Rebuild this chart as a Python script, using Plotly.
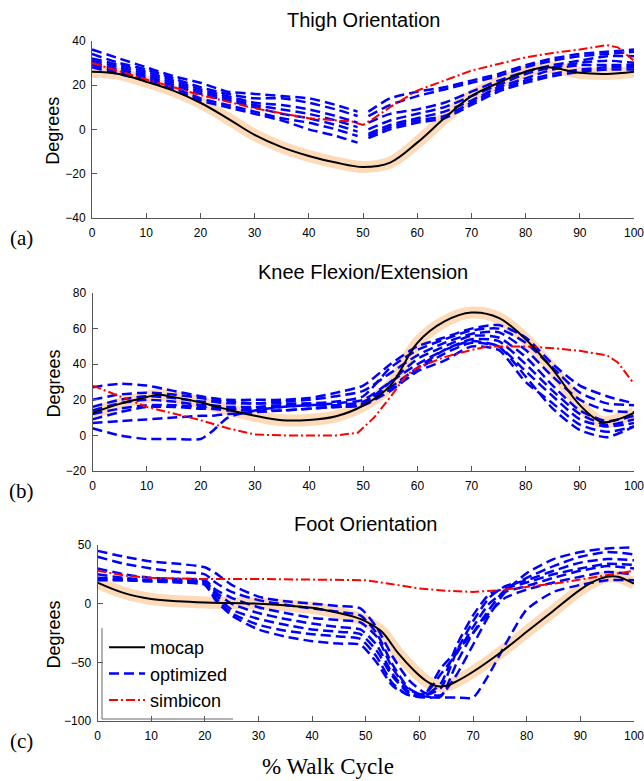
import plotly.graph_objects as go

W, H = 644, 781

# ---------------- data ----------------
thigh_mocap_x = [0, 5, 10, 15, 20, 25, 30, 35, 40, 45, 50, 55, 60, 65, 70, 75, 80, 84, 90, 95, 100]
thigh_mocap_y = [26, 25, 21.5, 17.5, 12, 5, -2.5, -8, -12, -15, -17, -15, -6, 5, 15, 21, 26, 28, 25.5, 25, 26]
thigh_simb_x = [0, 10, 20, 30, 40, 45, 48, 50, 52, 55, 60, 65, 70, 75, 80, 85, 90, 95, 97, 100]
thigh_simb_y = [30, 22.5, 15.5, 9.5, 5, 4, 3.5, 2, 5, 10, 17.5, 22, 26.5, 29.5, 32.5, 34.5, 36, 38, 37, 31]
thigh_opt_x = [0, 5, 10, 15, 20, 25, 30, 35, 40, 45, 49, 50, 51, 55, 60, 65, 70, 75, 80, 85, 90, 95, 100]
thigh_opt = [
    [36, 32, 28, 24, 21, 17, 16, 15, 14, 11, 8, None, 8, 14, 17, 19, 22, 25, 29, 32, 34, 35, 36],
    [34, 30, 27, 23, 19, 16, 14, 14, 12, 9, 6, None, 6, 11, 15, 18, 21, 24, 28, 31, 33, 34, 35],
    [32, 29, 26, 22, 18, 15, 12, 11, 9, 6, 3, None, 3, 7, 9, 12, 17, 22, 26, 29, 31, 33, 33],
    [31, 28, 25, 21, 17, 14, 11, 9, 7, 4, 1, None, 0, 4, 7, 10, 15, 20, 25, 28, 30, 31, 30],
    [30, 27, 24, 20, 16, 13, 10, 7, 5, 2, -1, None, -2, 2, 5, 8, 13, 19, 23, 27, 29, 29, 29],
    [29, 26, 23, 19, 14, 11, 8, 5, 3, 0, -3, None, -3, 1, 4, 6, 12, 18, 22, 25, 27, 28, 28],
    [28, 25, 22, 18, 13, 10, 7, 4, 0, -3, -6, None, -4, 0, 3, 5, 11, 17, 21, 24, 26, 27, 27],
]

knee_mocap_x = [0, 5, 10, 12, 15, 20, 25, 30, 35, 40, 45, 50, 55, 60, 65, 70, 75, 80, 85, 90, 94, 97, 100]
knee_mocap_y = [12.6, 17.7, 21.5, 22.8, 21.5, 18.5, 14.5, 11, 8.5, 8.7, 10.8, 16.8, 28, 52, 64, 69, 66, 54, 37, 17, 7.5, 9, 12.6]
knee_simb_x = [0, 10, 20, 25, 30, 35, 40, 45, 49, 52, 55, 58, 60, 65, 70, 73, 80, 85, 90, 95, 97, 100]
knee_simb_y = [28, 16, 8.5, 4, 0.5, 0, 0, 0, 1.5, 10, 21.5, 34, 38, 44, 48, 50, 50, 49, 47.5, 45, 41, 29]
knee_opt_x = [0, 5, 10, 15, 20, 22, 25, 30, 35, 40, 45, 50, 55, 60, 65, 70, 75, 80, 85, 90, 95, 100]
knee_opt = [
    [27, 29, 28, 25, 22, 21, 20, 20, 20, 21, 24, 28, 40, 50, 55, 60, 62, 55, 40, 28, 22, 18],
    [20, 23, 24, 23, 21, 20, 19, 18, 18, 18, 19, 22, 38, 48, 54, 59, 60, 52, 38, 24, 18, 17],
    [16, 20, 22, 21, 19, 19, 18, 18, 19, 20, 22, 25, 35, 45, 52, 57, 58, 48, 33, 20, 14, 13],
    [14, 18, 20, 19, 17, 17, 16, 16, 17, 17, 17, 18, 30, 43, 50, 56, 55, 44, 28, 14, 8, 11],
    [12, 15, 17, 17, 16, 16, 15, 15, 16, 17, 17, 19, 27, 38, 48, 54, 53, 40, 25, 12, 6, 9],
    [9, 13, 16, 16, 15, 15, 14, 14, 14, 15, 16, 17, 26, 37, 46, 52, 50, 36, 22, 9, 5, 7],
    [7, 8, 9, 10, 11, 11, 12, 13, 14, 15, 16, 17, 25, 36, 42, 50, 48, 30, 18, 6, 2, 5],
    [4, 0, -2, -2, -2, 2, 10, 14, 16, 17, 18, 20, 30, 40, 48, 53, 50, 33, 15, 3, -1, 5],
]

foot_mocap_x = [0, 5, 10, 15, 20, 25, 30, 35, 40, 45, 48, 50, 53, 56, 59, 61, 63, 65, 67, 70, 75, 80, 85, 90, 93, 95, 97, 100]
foot_mocap_y = [18, 9, 4, 2, 1, 0.5, 0, -1.5, -3.5, -8, -11.5, -15, -24, -42, -57, -65, -70, -70, -66, -58, -42, -24, -6, 12, 20, 23, 23, 17]
foot_simb_x = [0, 5, 10, 20, 30, 40, 50, 55, 60, 65, 70, 75, 80, 85, 90, 95, 100]
foot_simb_y = [28, 24, 22, 21, 21, 20.5, 20, 16.5, 13, 11, 10, 11.5, 14, 17, 20.5, 24, 28]
foot_opt_x = [0, 5, 10, 15, 20, 22, 25, 30, 35, 40, 45, 49, 52, 55, 58, 61, 64, 67, 70, 73, 76, 80, 85, 90, 95, 100]
foot_opt = [
    [45, 40, 36, 34, 31, 26, 16, 6, 2, 0, -2, -4, -20, -45, -65, -76, -78, -60, -35, -10, 10, 26, 38, 44, 47, 48],
    [40, 34, 30, 27, 25, 18, 10, 3, -1, -4, -7, -10, -25, -52, -72, -79, -79, -50, -25, -5, 12, 22, 32, 40, 44, 42],
    [30, 25, 22, 21, 20, 12, 5, -3, -8, -12, -14, -16, -28, -55, -73, -78, -72, -40, -15, 5, 15, 20, 28, 35, 38, 37],
    [25, 22, 20, 20, 19, 10, 0, -8, -13, -17, -20, -22, -35, -60, -75, -78, -68, -35, -10, 8, 13, 18, 25, 30, 34, 33],
    [22, 21, 20, 20, 18, 8, -5, -13, -18, -22, -24, -26, -40, -62, -76, -77, -60, -42, -20, 0, 10, 15, 22, 28, 32, 30],
    [20, 20, 19, 19, 17, 5, -8, -18, -23, -26, -28, -30, -45, -68, -78, -77, -55, -40, -25, -8, 5, 12, 18, 23, 27, 25],
    [21, 20, 19, 18, 16, 3, -10, -22, -28, -32, -34, -35, -50, -70, -78, -80, -80, -80, -80, -60, -35, -5, 10, 16, 20, 20],
]

panel_titles = ["Thigh Orientation", "Knee Flexion/Extension", "Foot Orientation"]
panel_letters = ["(a)", "(b)", "(c)"]
y_ranges = [[-40, 40], [-20, 80], [-100, 50]]
y_dticks = [20, 20, 50]

# ---------------- layout helpers (pixels -> paper) ----------------
def px(x):
    return x / W

def py(y):
    return 1 - y / H

panel_px = [  # left, right, top, bottom in pixels
    (92, 634, 40.7, 218),
    (92.5, 634, 293, 471),
    (97.5, 634, 545, 721),
]

BAND = "#FDDAB8"
BLUE = "#0000FF"
RED = "#FF0000"

fig = go.Figure()

panels = [
    (thigh_mocap_x, thigh_mocap_y, thigh_simb_x, thigh_simb_y, thigh_opt_x, thigh_opt),
    (knee_mocap_x, knee_mocap_y, knee_simb_x, knee_simb_y, knee_opt_x, knee_opt),
    (foot_mocap_x, foot_mocap_y, foot_simb_x, foot_simb_y, foot_opt_x, foot_opt),
]

for i, (mx, my, sx, sy, ox, opts) in enumerate(panels):
    xa = "x" if i == 0 else f"x{i+1}"
    ya = "y" if i == 0 else f"y{i+1}"
    fig.add_trace(go.Scatter(x=mx, y=my, xaxis=xa, yaxis=ya, mode="lines",
                             line=dict(color=BAND, width=12, shape="spline", smoothing=1.0),
                             showlegend=False, hoverinfo="skip"))
    for j, oy in enumerate(opts):
        fig.add_trace(go.Scatter(x=ox, y=oy, xaxis=xa, yaxis=ya, mode="lines",
                                 line=dict(color=BLUE, width=2.5, dash="10px,5px", shape="spline", smoothing=0.6),
                                 connectgaps=False, name="optimized", legendgroup="opt",
                                 showlegend=(i == 2 and j == 0), legendrank=2))
    fig.add_trace(go.Scatter(x=sx, y=sy, xaxis=xa, yaxis=ya, mode="lines",
                             line=dict(color=RED, width=2, dash="9px,3px,2px,3px"),
                             name="simbicon", showlegend=(i == 2), legendrank=3))
    fig.add_trace(go.Scatter(x=mx, y=my, xaxis=xa, yaxis=ya, mode="lines",
                             line=dict(color="black", width=2, shape="spline", smoothing=1.0),
                             name="mocap", showlegend=(i == 2), legendrank=1))

axis_common = dict(showline=True, linecolor="#555555", linewidth=1, ticks="inside", ticklen=5,
                   tickcolor="#555555", showgrid=False, zeroline=False, mirror=False,
                   automargin=False, ticklabeloverflow="allow",
                   tickfont=dict(family="Liberation Sans, Arial, sans-serif", size=12, color="black"))

annotations = []
layout = {}
for i, (l, r, t, b) in enumerate(panel_px):
    xk = "xaxis" if i == 0 else f"xaxis{i+1}"
    yk = "yaxis" if i == 0 else f"yaxis{i+1}"
    ya = "y" if i == 0 else f"y{i+1}"
    xa = "x" if i == 0 else f"x{i+1}"
    layout[xk] = dict(axis_common, domain=[px(l), px(r)], range=[0, 100], dtick=10, tick0=0,
                      anchor=ya, ticklabelstandoff=4)
    layout[yk] = dict(axis_common, domain=[py(b), py(t)], range=y_ranges[i], dtick=y_dticks[i],
                      anchor=xa, ticklabelstandoff=3)
    cy = (t + b) / 2
    annotations.append(dict(text=panel_titles[i], x=px((l + r) / 2), y=py(t - 21), xref="paper", yref="paper",
                            showarrow=False, xanchor="center", yanchor="middle",
                            font=dict(family="Liberation Sans, Arial, sans-serif", size=20, color="black")))
    annotations.append(dict(text="Degrees", x=px(53.5), y=py(cy + 2), xref="paper", yref="paper",
                            showarrow=False, textangle=-90, xanchor="center", yanchor="middle",
                            font=dict(family="Liberation Sans, Arial, sans-serif", size=18, color="black")))
    annotations.append(dict(text=panel_letters[i], x=px(21), y=py(b + 20), xref="paper", yref="paper",
                            showarrow=False, xanchor="center", yanchor="middle",
                            font=dict(family="Liberation Serif, Times New Roman, serif", size=21, color="black")))

annotations.append(dict(text="% Walk Cycle", x=px(328), y=py(766), xref="paper", yref="paper",
                        showarrow=False, xanchor="center", yanchor="middle",
                        font=dict(family="Liberation Serif, Times New Roman, serif", size=23, color="black")))

shapes = [
    dict(type="line", xref="paper", yref="paper", x0=px(102), x1=px(102), y0=py(628), y1=py(719),
         line=dict(color="#666666", width=1)),
    dict(type="line", xref="paper", yref="paper", x0=px(102), x1=px(233), y0=py(719), y1=py(719),
         line=dict(color="#666666", width=1)),
]

fig.update_layout(
    template="none",
    width=W, height=H,
    margin=dict(l=0, r=0, t=0, b=0, pad=0, autoexpand=False),
    paper_bgcolor="white", plot_bgcolor="white",
    annotations=annotations, shapes=shapes,
    legend=dict(x=px(104), y=py(629), xanchor="left", yanchor="top",
                bgcolor="rgba(0,0,0,0)", borderwidth=0,
                font=dict(family="Liberation Sans, Arial, sans-serif", size=18, color="black"),
                itemwidth=36, tracegroupgap=0),
    **layout,
)

# remove the browser's default 8px body margin so the figure fills the window exactly
fig.write_html("out.html",
               config={"displayModeBar": False},
               post_script="document.body.style.margin='0px';document.body.style.overflow='hidden';")
